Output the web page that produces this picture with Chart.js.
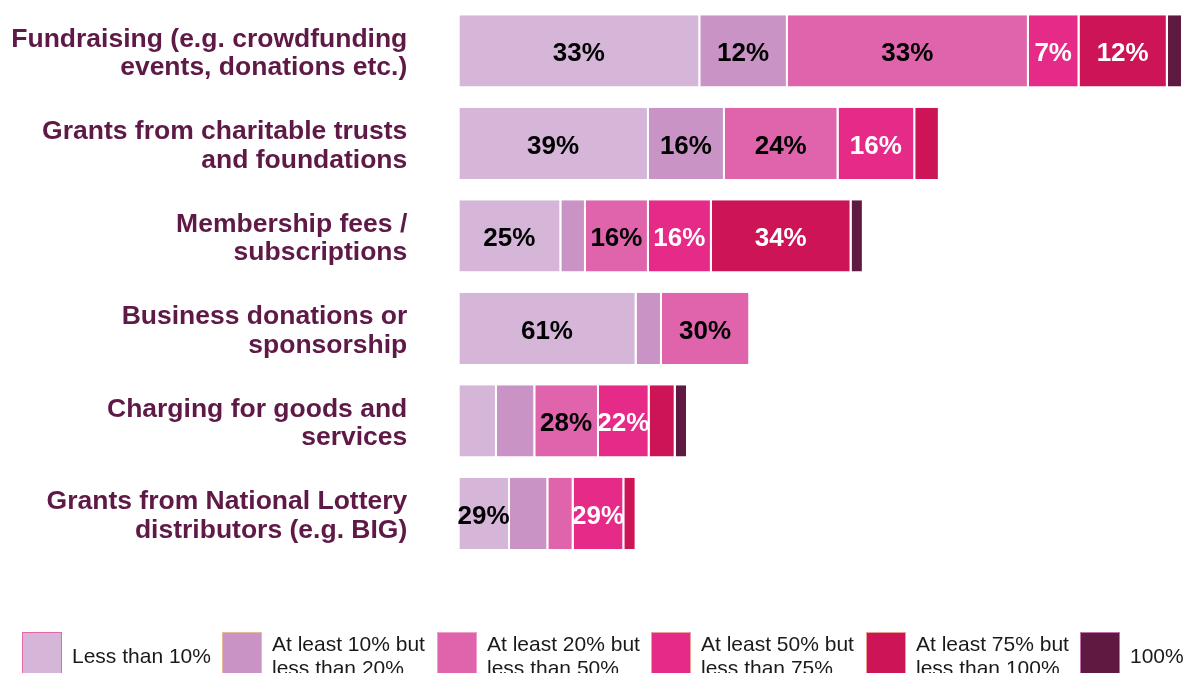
<!DOCTYPE html>
<html>
<head>
<meta charset="utf-8">
<script src="https://cdn.jsdelivr.net/npm/chart.js@4"></script>
<style>
  html, body { margin: 0; padding: 0; background: #fff; }
  #chartContainer { width: 1183px; height: 673px; position: relative; }
</style>
</head>
<body>
<div id="chartContainer"><canvas id="myChart"></canvas></div>
<script>
// rows of the chart (y axis)
const categories = [
    ['Fundraising (e.g. crowdfunding', 'events, donations etc.)'],
    ['Grants from charitable trusts', 'and foundations'],
    ['Membership fees /', 'subscriptions'],
    ['Business donations or', 'sponsorship'],
    ['Charging for goods and', 'services'],
    ['Grants from National Lottery', 'distributors (e.g. BIG)']
];

const seriesNames = [
    ['Less than 10%'],
    ['At least 10% but', 'less than 20%'],
    ['At least 20% but', 'less than 50%'],
    ['At least 50% but', 'less than 75%'],
    ['At least 75% but', 'less than 100%'],
    ['100%']
];

// bar lengths (share of all respondents, fundraising row = 100)
const lessThan10 = [33.3, 26.2, 14.1, 24.5, 5.2, 7.0];
const from10to20 = [12.1, 10.5, 3.4, 3.5, 5.3, 5.3];
const from20to50 = [33.3, 15.7, 8.7, 12.2, 8.8, 3.5];
const from50to75 = [7.0, 10.6, 8.7, 0, 7.0, 7.0];
const from75to100 = [12.2, 3.4, 19.3, 0, 3.6, 1.7];
const all100 = [2.1, 0, 1.7, 0, 1.7, 0];

// printed percentages inside the bars
const labelsLessThan10 = ['33%', '39%', '25%', '61%', '', '29%'];
const labels10to20 = ['12%', '16%', '', '', '', ''];
const labels20to50 = ['33%', '24%', '16%', '30%', '28%', ''];
const labels50to75 = ['7%', '16%', '16%', '', '22%', '29%'];
const labels75to100 = ['12%', '', '34%', '', '', ''];
const labels100 = ['', '', '', '', '', ''];

const colors = ['#D5B6D8', '#CA93C5', '#DF64AC', '#E62A87', '#CC1456', '#5E1A40'];
const textColors = ['#000', '#000', '#000', '#fff', '#fff', '#fff'];
const legendEdge = ['#E668A8', '#E8B898', '#F0A0C8', '#E8A0A0', '#E8A090', '#C070B0'];

const values = [lessThan10, from10to20, from20to50, from50to75, from75to100, all100];
const barLabels = [labelsLessThan10, labels10to20, labels20to50, labels50to75, labels75to100, labels100];

const fontFamily = '"Liberation Sans", Arial, Helvetica, sans-serif';
Chart.defaults.font.family = fontFamily;

const datasets = values.map(function (v, i) {
    return {
        label: seriesNames[i].join(' '),
        data: v,
        backgroundColor: colors[i],
        borderColor: '#ffffff',
        borderWidth: { left: 0, right: 2, top: 0, bottom: 0 },
        borderSkipped: false,
        categoryPercentage: 1,
        barPercentage: 0.77
    };
});

// percentages written in the middle of each segment
const barLabelPlugin = {
    id: 'barLabels',
    afterDatasetsDraw(chart) {
        const ctx = chart.ctx;
        ctx.save();
        ctx.font = 'bold 26px ' + fontFamily;
        ctx.textAlign = 'center';
        ctx.textBaseline = 'middle';
        chart.data.datasets.forEach(function (ds, i) {
            const meta = chart.getDatasetMeta(i);
            meta.data.forEach(function (bar, j) {
                const text = barLabels[i][j];
                if (!text) return;
                const p = bar.getProps(['x', 'y', 'base'], true);
                ctx.fillStyle = textColors[i];
                ctx.fillText(text, (p.x + p.base) / 2 - 1, p.y + 3);
            });
        });
        ctx.restore();
    }
};

// legend along the bottom, two-line labels
const bottomLegendPlugin = {
    id: 'bottomLegend',
    afterDraw(chart) {
        const ctx = chart.ctx;
        const boxX = [22, 222, 437, 651, 866, 1080];
        const boxTop = 632;
        ctx.save();
        ctx.font = '21px ' + fontFamily;
        ctx.textAlign = 'left';
        ctx.textBaseline = 'alphabetic';
        seriesNames.forEach(function (name, i) {
            const x = boxX[i];
            ctx.fillStyle = colors[i];
            ctx.fillRect(x, boxTop, 40, 45);
            ctx.strokeStyle = legendEdge[i];
            ctx.lineWidth = 1;
            ctx.strokeRect(x + 0.5, boxTop + 0.5, 39, 45);
            ctx.fillStyle = '#1a1a1a';
            if (name.length === 1) {
                ctx.fillText(name[0], x + 50, 663);
            } else {
                ctx.fillText(name[0], x + 50, 651);
                ctx.fillText(name[1], x + 50, 675);
            }
        });
        ctx.restore();
    }
};

const config = {
    type: 'bar',
    data: {
        labels: categories,
        datasets: datasets
    },
    options: {
        indexAxis: 'y',
        responsive: true,
        maintainAspectRatio: false,
        animation: false,
        layout: {
            padding: { top: 4.6, bottom: 113.4, left: 0, right: 0 }
        },
        plugins: {
            legend: { display: false },
            tooltip: { enabled: false },
            title: { display: false }
        },
        scales: {
            x: {
                stacked: true,
                display: false,
                min: 0,
                max: 100
            },
            y: {
                stacked: true,
                grid: { display: false, drawTicks: false, tickLength: 0 },
                border: { display: false },
                afterFit: function (scale) {
                    scale.width = 459.3;
                    scale.paddingTop = 0;
                    scale.paddingBottom = 0;
                },
                ticks: {
                    padding: 52,
                    labelOffset: 3,
                    color: '#5F1946',
                    font: { size: 26.5, weight: 'bold', lineHeight: 1.08 }
                }
            }
        }
    },
    plugins: [barLabelPlugin, bottomLegendPlugin]
};

// render init block
const myChart = new Chart(
    document.getElementById('myChart'),
    config
);
</script>
</body>
</html>
